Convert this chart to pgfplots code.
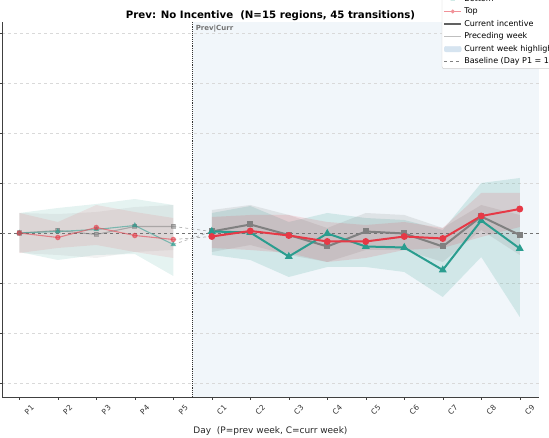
\documentclass[border=0pt]{standalone}
\usepackage{pgfplots}
\pgfplotsset{compat=1.18}
\usepackage{pgfplotstable}
\usepgfplotslibrary{fillbetween}
\usepackage{fontspec}
\setmainfont{DejaVu Sans}
\definecolor{redc}{RGB}{230,57,70}
\definecolor{tealc}{RGB}{42,157,143}
\definecolor{grayc}{RGB}{128,128,128}
\definecolor{bgblue}{RGB}{241,246,250}
\definecolor{legblue}{RGB}{214,228,240}

% prev week (x=0..4), current week (x=5..13): mean m, band upper u, lower l
\pgfplotstableread{
x m u l
0 1.000 1.040 0.960
1 0.991 1.022 0.970
2 1.011 1.056 0.976
3 0.995 1.042 0.962
4 0.987 1.030 0.950
}\redP
\pgfplotstableread{
x m u l
0 1.000 1.040 0.962
1 1.003 1.050 0.946
2 1.007 1.058 0.956
3 1.015 1.068 0.958
4 0.977 1.056 0.914
}\tealP
\pgfplotstableread{
x m u l
0 1.000 1.040 0.960
1 1.005 1.038 0.956
2 0.997 1.042 0.950
3 1.013 1.052 0.962
4 1.013 1.056 0.966
}\grayP
\pgfplotstableread{
x m u l
5 0.993 1.032 0.970
6 1.004 1.036 0.966
7 0.995 1.036 0.960
8 0.983 1.022 0.942
9 0.983 1.016 0.950
10 0.993 1.022 0.966
11 0.989 1.010 0.970
12 1.034 1.080 0.992
13 1.048 1.080 1.012
}\redC
\pgfplotstableread{
x m u l
5 1.003 1.040 0.956
6 1.001 1.054 0.946
7 0.953 1.022 0.912
8 0.999 1.040 0.932
9 0.973 1.030 0.932
10 0.971 1.026 0.922
11 0.926 1.006 0.872
12 1.025 1.100 0.952
13 0.969 1.110 0.832
}\tealC
\pgfplotstableread{
x m u l
5 1.003 1.046 0.962
6 1.017 1.056 0.976
7 0.996 1.036 0.956
8 0.973 1.010 0.942
9 1.003 1.040 0.966
10 0.999 1.036 0.966
11 0.973 1.010 0.942
12 1.033 1.056 1.006
13 0.996 1.036 0.956
}\grayC

\begin{document}
\begin{tikzpicture}
\begin{axis}[
  set layers,
  scale only axis,
  width=537pt, height=375pt,
  xmin=-0.45, xmax=13.5,
  ymin=0.672, ymax=1.422,
  axis x line*=bottom, axis y line*=left,
  axis line style={black!75, line width=0.6pt},
  tick align=outside,
  major tick length=3pt,
  tick style={black!75},
  xtick={0,...,13},
  xticklabels={P1,P2,P3,P4,P5,C1,C2,C3,C4,C5,C6,C7,C8,C9},
  x tick label style={rotate=45, anchor=center, yshift=-14pt, font=\fontsize{7.5}{8}\selectfont, text=black!80},
  ytick={0.7,0.8,...,1.45},
  yticklabels={},
  ymajorgrids,
  grid style={dashed, black!15, line width=0.5pt},
  xlabel={Day\ \ (P=prev week, C=curr week)},
  xlabel style={font=\fontsize{9}{10}\selectfont, text=black!85, at={(axis description cs:0.5,0)}, anchor=center, yshift=-34pt},
  title={\textbf{Prev: No Incentive\ \ (N=15 regions, 45 transitions)}},
  title style={font=\fontsize{10.2}{11}\selectfont, at={(axis description cs:0.5,1)}, anchor=base, yshift=-2.5pt},
  legend style={at={(0.819,0.875)}, anchor=south west, font=\fontsize{8}{9.5}\selectfont,
    draw=black!20, rounded corners=2pt, fill=white, row sep=1pt, inner sep=1.2pt},
  legend cell align=left,
]
% legend entries
\addlegendimage{color=tealc!60, line width=0.8pt, mark=triangle*, mark size=1.6pt}
\addlegendentry{Bottom}
\addlegendimage{color=redc!55, line width=0.8pt, mark=*, mark size=1.5pt}
\addlegendentry{Top}
\addlegendimage{color=black!62, line width=2pt}
\addlegendentry{Current incentive}
\addlegendimage{color=black!25, line width=1pt}
\addlegendentry{Preceding week}
\addlegendimage{area legend, fill=legblue, draw=legblue}
\addlegendentry{Current week highlight}
\addlegendimage{dashed, color=grayc, line width=0.8pt}
\addlegendentry{Baseline (Day P1 = 1.0)}

% current week background
\addplot[on layer=axis background, fill=bgblue, draw=none, forget plot]
  coordinates {(4.5,0.672) (13.5,0.672) (13.5,1.422) (4.5,1.422)} -- cycle;

% bands prev week
\addplot[name path=tpu, draw=none, forget plot] table[x=x,y=u]{\tealP};
\addplot[name path=tpl, draw=none, forget plot] table[x=x,y=l]{\tealP};
\addplot[tealc, fill opacity=0.12, forget plot] fill between[of=tpu and tpl];
\addplot[name path=gpu, draw=none, forget plot] table[x=x,y=u]{\grayP};
\addplot[name path=gpl, draw=none, forget plot] table[x=x,y=l]{\grayP};
\addplot[grayc, fill opacity=0.10, forget plot] fill between[of=gpu and gpl];
\addplot[name path=rpu, draw=none, forget plot] table[x=x,y=u]{\redP};
\addplot[name path=rpl, draw=none, forget plot] table[x=x,y=l]{\redP};
\addplot[redc, fill opacity=0.10, forget plot] fill between[of=rpu and rpl];
% bands current week
\addplot[name path=tcu, draw=none, forget plot] table[x=x,y=u]{\tealC};
\addplot[name path=tcl, draw=none, forget plot] table[x=x,y=l]{\tealC};
\addplot[tealc, fill opacity=0.16, forget plot] fill between[of=tcu and tcl];
\addplot[name path=gcu, draw=none, forget plot] table[x=x,y=u]{\grayC};
\addplot[name path=gcl, draw=none, forget plot] table[x=x,y=l]{\grayC};
\addplot[grayc, fill opacity=0.16, forget plot] fill between[of=gcu and gcl];
\addplot[name path=rcu, draw=none, forget plot] table[x=x,y=u]{\redC};
\addplot[name path=rcl, draw=none, forget plot] table[x=x,y=l]{\redC};
\addplot[redc, fill opacity=0.14, forget plot] fill between[of=rcu and rcl];

% baseline
\addplot[dashed, color=black!55, line width=0.8pt, forget plot] coordinates {(-0.45,1) (13.5,1)};
% divider
\addplot[densely dotted, color=black!80, line width=0.9pt, forget plot] coordinates {(4.5,0.672) (4.5,1.422)};

% connectors P5 -> C1
\addplot[dashed, color=grayc, opacity=0.6, line width=0.7pt, forget plot] coordinates {(4,0.987) (5,0.993)};
\addplot[dashed, color=grayc, opacity=0.6, line width=0.7pt, forget plot] coordinates {(4,0.977) (5,1.003)};
\addplot[dashed, color=grayc, opacity=0.6, line width=0.7pt, forget plot] coordinates {(4,1.013) (5,1.003)};

% prev week lines
\addplot[color=grayc, opacity=0.55, line width=1.1pt, mark=square*, mark size=2pt, forget plot] table[x=x,y=m]{\grayP};
\addplot[color=tealc, opacity=0.55, line width=1.1pt, mark=triangle*, mark size=2.4pt, forget plot] table[x=x,y=m]{\tealP};
\addplot[color=redc, opacity=0.55, line width=1.1pt, mark=*, mark size=2.2pt, forget plot] table[x=x,y=m]{\redP};
% current week lines
\addplot[color=grayc, line width=2pt, mark=square*, mark size=2pt, forget plot] table[x=x,y=m]{\grayC};
\addplot[color=tealc, line width=2pt, mark=triangle*, mark size=2.6pt, forget plot] table[x=x,y=m]{\tealC};
\addplot[color=redc, line width=2pt, mark=*, mark size=2.4pt, forget plot] table[x=x,y=m]{\redC};

\node[anchor=north west, font=\fontsize{7}{8}\selectfont\bfseries, text=black!55, inner sep=0pt]
  at (axis cs:4.5,1.422) [xshift=3pt, yshift=-3pt] {Prev|Curr};

\coordinate (SW) at (rel axis cs:0,0);
\coordinate (NE) at (rel axis cs:1,1);
\end{axis}
\pgfresetboundingbox
\path[use as bounding box] ([xshift=-2pt,yshift=-41pt]SW) rectangle ([xshift=10pt,yshift=22pt]NE);
\end{tikzpicture}
\end{document}
